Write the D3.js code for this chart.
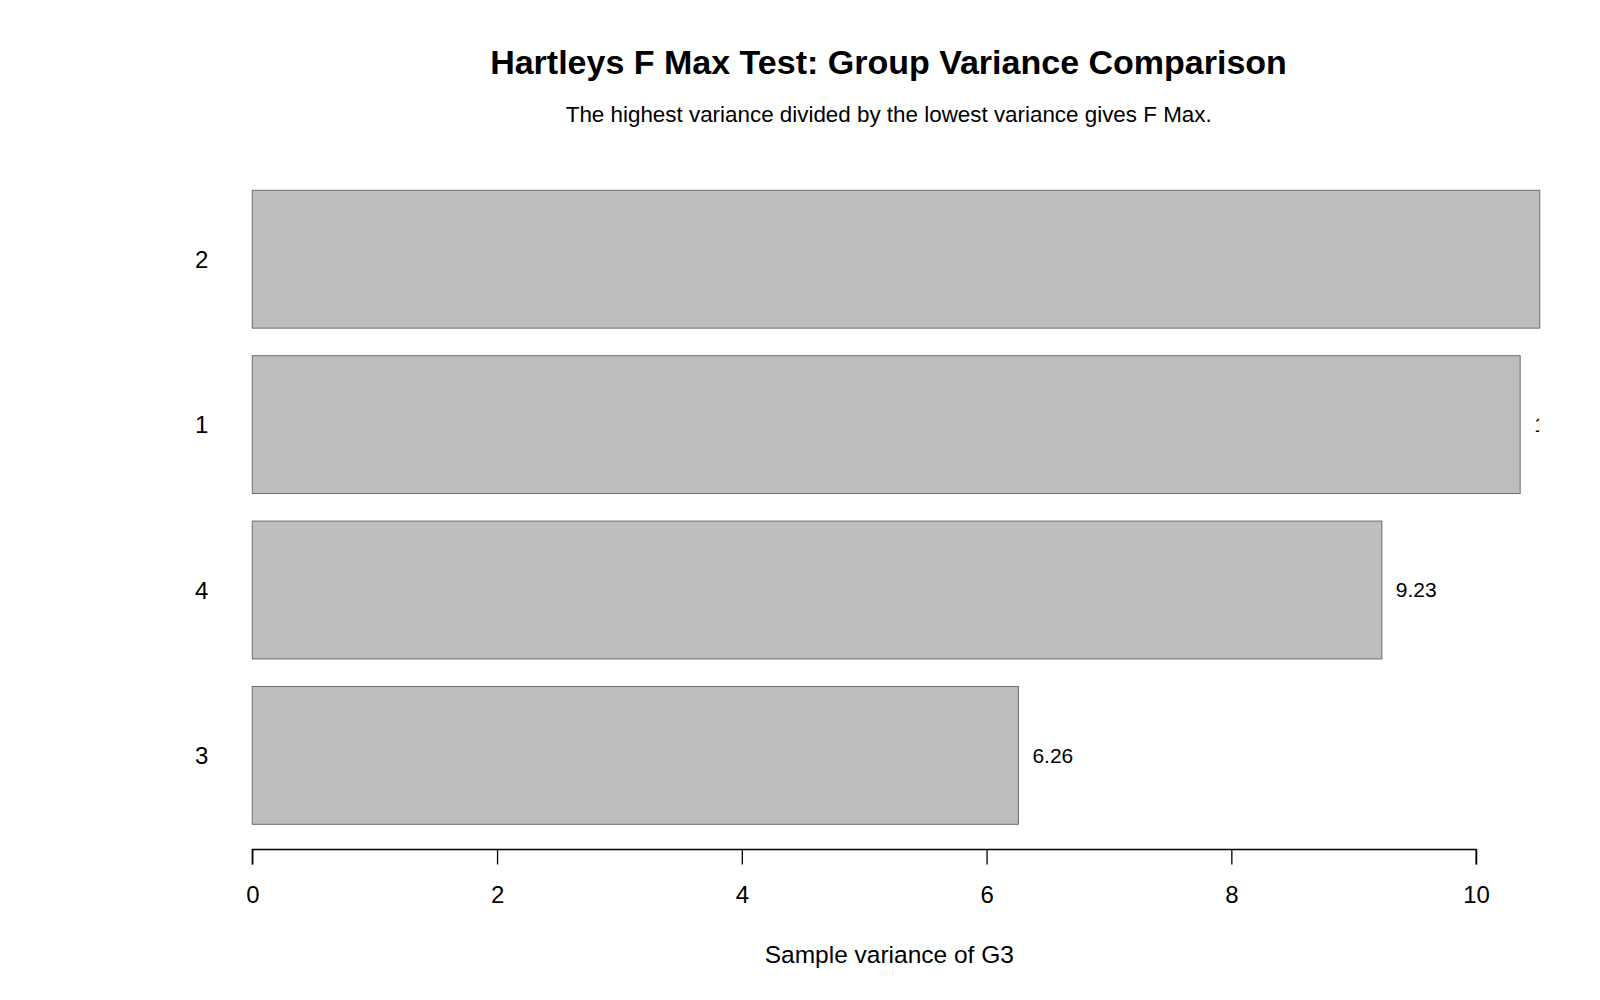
<!DOCTYPE html>
<html>
<head>
<meta charset="utf-8">
<script src="https://cdn.jsdelivr.net/npm/d3@7"></script>
<style>
  body { margin: 0; background: #fff; }
  text { font-family: "Liberation Sans", Arial, sans-serif; fill: #000; }
</style>
</head>
<body>
<svg id="chart" width="1600" height="1000"></svg>
<script>
// group variances, bottom to top as R draws them
var groups = ['3', '4', '1', '2'];
var variances = [6.26, 9.23, 10.36, 10.52];
var valueLabels = ['6.26', '9.23', '10.36', '10.52'];
var xTicks = [0, 2, 4, 6, 8, 10];

var titleText = 'Hartleys F Max Test: Group Variance Comparison';
var subText = 'The highest variance divided by the lowest variance gives F Max.';
var xLabel = 'Sample variance of G3';

var svg = d3.select('#chart');
var plotLeft = 252.3, plotTop = 190.3, plotBottom = 824.3, axisY = 849.5;

var x = d3.scaleLinear().domain([0, 10]).range([plotLeft, plotLeft + 1223.8]);
var xMax = d3.max(variances);
var y = d3.scaleBand().domain(groups.slice().reverse())
    .range([plotTop, plotBottom]).paddingInner(0.2 / 1.2).paddingOuter(0);

// labels get cut at the right edge of the plot region (R clips them)
svg.append('defs').append('clipPath').attr('id', 'plotclip')
  .append('rect')
  .attr('x', plotLeft).attr('y', 150)
  .attr('width', x(xMax) - plotLeft - 0.6).attr('height', 700);

svg.selectAll('rect.bar')
  .data(groups)
  .enter().append('rect')
  .attr('class', 'bar')
  .attr('x', x(0))
  .attr('y', function (d) { return y(d); })
  .attr('width', function (d, i) { return x(variances[i]) - x(0); })
  .attr('height', y.bandwidth())
  .style('fill', '#bebebe')
  .style('stroke', '#6b6b6b')
  .style('stroke-width', 1);

var labs = svg.append('g').attr('clip-path', 'url(#plotclip)');
labs.selectAll('text.val')
  .data(groups)
  .enter().append('text')
  .attr('class', 'val')
  .attr('x', function (d, i) { return x(variances[i]) + 14; })
  .attr('y', function (d) { return y(d) + y.bandwidth() / 2 + 7.3; })
  .style('font-size', '21px')
  .text(function (d, i) { return valueLabels[i]; });

// group names
svg.selectAll('text.grp')
  .data(groups)
  .enter().append('text')
  .attr('class', 'grp')
  .attr('x', 201.7)
  .attr('y', function (d) { return y(d) + y.bandwidth() / 2 + 8.6; })
  .attr('text-anchor', 'middle')
  .style('font-size', '24px')
  .text(function (d) { return d; });

// x axis
var xAxis = d3.axisBottom(x).tickValues(xTicks).tickSize(15).tickPadding(21)
  .tickFormat(d3.format('d'));
var ax = svg.append('g').attr('transform', 'translate(0,' + axisY + ')').call(xAxis);
ax.select('.domain').attr('stroke', '#000').attr('stroke-width', 1.3)
  .attr('d', 'M' + x(0) + ',15V0H' + x(10) + 'V15');
ax.selectAll('.tick line').attr('stroke', '#000').attr('stroke-width', 1.3);
ax.selectAll('.tick text')
  .style('font-size', '24px')
  .style('font-family', '"Liberation Sans", Arial, sans-serif')
  .attr('fill', '#000');

svg.append('text')
  .attr('x', 888.5).attr('y', 74.3)
  .attr('text-anchor', 'middle')
  .style('font-size', '34px').style('font-weight', 'bold')
  .text(titleText);

svg.append('text')
  .attr('x', 888.7).attr('y', 121.7)
  .attr('text-anchor', 'middle')
  .style('font-size', '22.4px')
  .text(subText);

svg.append('text')
  .attr('x', 889.3).attr('y', 962.7)
  .attr('text-anchor', 'middle')
  .style('font-size', '24.5px')
  .text(xLabel);
</script>
</body>
</html>
